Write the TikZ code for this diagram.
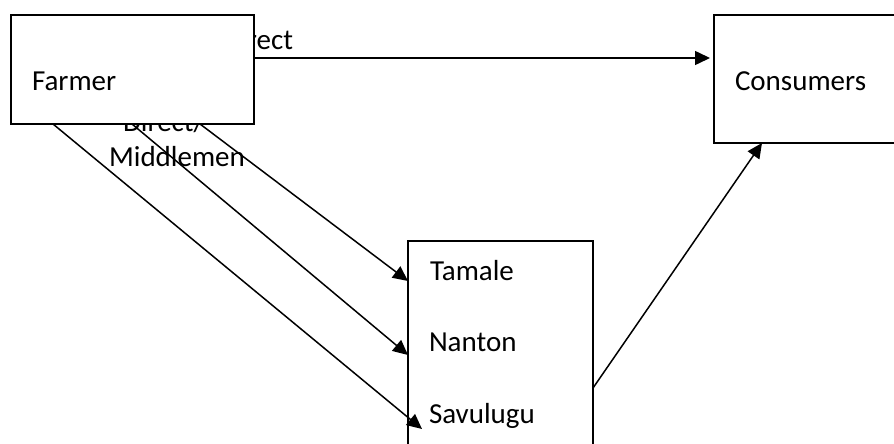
\documentclass[tikz,border=0pt]{standalone}
\usepackage{fontspec}
\setmainfont{Carlito}
\usetikzlibrary{arrows.meta}

\tikzset{
  blk/.style={draw, line width=1.7pt, inner sep=0, outer sep=0},
  lbl/.style={inner sep=0, outer sep=0, anchor=base west, font=\fontsize{29}{35}\selectfont},
  flow/.style={-{Triangle[length=15pt,width=14pt]}, line width=1.5pt},
}

\begin{document}
\begin{tikzpicture}[x=1pt,y=-1pt]
		\clip (0,0) rectangle (894,444);
		% channel labels, partly hidden under the farmer box
		\node [lbl, anchor=base east] (direct) at (293,49) {Direct};
		\node [lbl, anchor=base, align=center] (dirmid) at (177,166) {Direct/\hspace*{0.9em}\\Middlemen};
		% boxes
		\node [blk, fill=white, minimum width=243pt, minimum height=109pt] (farmer) at (132.5,69.5) {};
		\node [blk, minimum width=190pt, minimum height=128pt] (consumers) at (809,79) {};
		\node [blk, minimum width=185pt, minimum height=229pt] (mkt) at (500.5,355.5) {};
		\node [lbl] (farmertxt) at (32,91) {Farmer};
		\node [lbl] (consumerstxt) at (735,91) {Consumers};
		\node [lbl] (tamale) at (430,280) {Tamale};
		\node [lbl] (nanton) at (429,351) {Nanton};
		\node [lbl] (savulugu) at (429,423) {Savulugu};
		% flows
		\draw [flow] ([yshift=11.5pt]farmer.east) -- ([xshift=-4pt,yshift=21pt]consumers.west);
		\draw [flow] ([xshift=42pt]farmer.south west) -- ([xshift=14pt,yshift=-188pt]mkt.north west);
		\draw [flow] ([xshift=121pt]farmer.south west) -- ([yshift=-114pt]mkt.north west);
		\draw [flow] ([xshift=189pt]farmer.south west) -- ([yshift=-40pt]mkt.north west);
		\draw [flow] ([yshift=-147pt]mkt.north east) -- ([xshift=48pt]consumers.south west);
\end{tikzpicture}
\end{document}
